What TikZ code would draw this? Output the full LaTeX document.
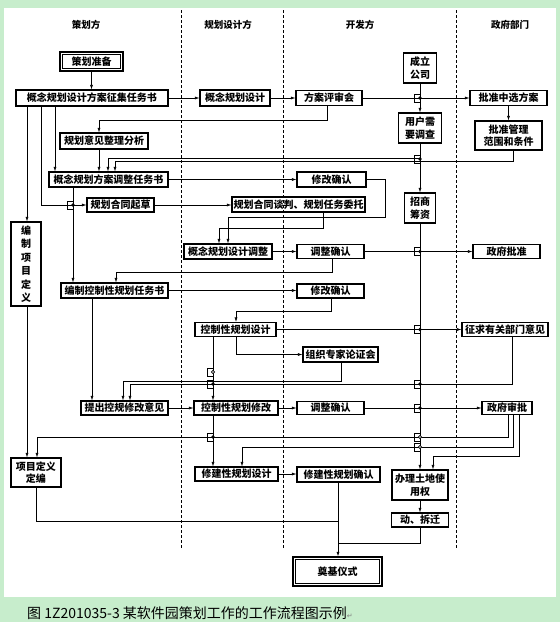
\documentclass[tikz,border=0pt]{standalone}
\usepackage{fontspec}
\setmainfont{Noto Sans CJK SC}
\newfontfamily\dejavu{DejaVu Sans}
\usetikzlibrary{arrows.meta}
\definecolor{bggreen}{RGB}{199,237,204}
\tikzset{
  bx/.style={draw, line width=1.1pt, inner sep=0pt, align=center,
    font=\bfseries\fontsize{10}{12.5}\selectfont},
  ln/.style={line width=0.6pt},
  ar/.style={ln, -{Latex[length=4.5pt,width=3pt]}},
  colline/.style={line width=0.6pt, dash pattern=on 3pt off 2pt},
  hd/.style={font=\bfseries\fontsize{9.5}{11}\selectfont},
  gatef/.pic={\draw[line width=0.7pt] (-6,-4) rectangle (0,4); \fill (0,0) circle (1.8);},
  gateh/.pic={\draw[line width=0.7pt] (-6,-4) rectangle (0,4); \draw[line width=0.6pt, fill=white] (0,0) circle (1.6);},
}
\begin{document}
\begin{tikzpicture}[x=1pt,y=-1pt]
\useasboundingbox (0,0) rectangle (560,622);
\fill[bggreen] (0,0) rectangle (560,622);
\fill[white] (4,8) rectangle (556,597);

% column separators
\draw[colline] (181,10) -- (181,548);
\draw[colline] (283,10) -- (283,548);
\draw[colline] (456,10) -- (456,548);

% headers
\node[hd] (h1) at (86,25) {策划方};
\node[hd] (h2) at (228,25) {规划设计方};
\node[hd] (h3) at (360,25) {开发方};
\node[hd] (h4) at (510,25) {政府部门};

% nodes
\node[bx, line width=1.5pt, minimum width=63, minimum height=19] (zb) at (91.5,61.5) {策划准备};
\draw[line width=0.7pt] ([shift={(3.2,3.2)}]zb.north west) rectangle ([shift={(-3.2,-3.2)}]zb.south east);
\node[bx, minimum width=152, minimum height=16] (zj) at (92,98) {概念规划设计方案征集任务书};
\node[bx, minimum width=70, minimum height=16] (gs) at (235,98) {概念规划设计};
\node[bx, minimum width=66, minimum height=15] (ps) at (329,98) {方案评审会};
\node[bx, minimum width=33, minimum height=30] (cl) at (420,68) {成立\\公司};
\node[bx, minimum width=43, minimum height=30] (yh) at (420,128) {用户需\\要调查};
\node[bx, minimum width=77, minimum height=15] (pz) at (508.5,98) {批准中选方案};
\node[bx, minimum width=67, minimum height=29] (pg) at (508.5,135.5) {批准管理\\范围和条件};
\node[bx, minimum width=88, minimum height=16] (yj) at (104,141) {规划意见整理分析};
\node[bx, minimum width=119, minimum height=15] (tz) at (108.5,179.5) {概念规划方案调整任务书};
\node[bx, minimum width=69, minimum height=15] (xga) at (331.5,179.5) {修改确认};
\node[bx, minimum width=31, minimum height=30] (zs) at (420,208) {招商\\筹资};
\node[bx, minimum width=67, minimum height=14] (qc) at (120.5,205) {规划合同起草};
\node[bx, minimum width=133, minimum height=15] (tp) at (298.5,204.5) {规划合同谈判、规划任务委托};
\node[bx, minimum width=30, minimum height=84, font=\bfseries\fontsize{10}{13.5}\selectfont] (xm) at (26,264) {编\\制\\项\\目\\定\\义};
\node[bx, minimum width=88, minimum height=15] (gt) at (228,251.5) {概念规划设计调整};
\node[bx, minimum width=67, minimum height=14] (tqa) at (330.5,251.5) {调整确认};
\node[bx, minimum width=67, minimum height=14] (zp) at (506.5,251.5) {政府批准};
\node[bx, minimum width=107, minimum height=15] (bk) at (114.5,290.5) {编制控制性规划任务书};
\node[bx, minimum width=67, minimum height=14] (xgb) at (330.5,291) {修改确认};
\node[bx, minimum width=81, minimum height=14] (ks) at (235.5,329.5) {控制性规划设计};
\node[bx, minimum width=86, minimum height=14] (zq) at (505,329.5) {征求有关部门意见};
\node[bx, minimum width=75, minimum height=15] (zz) at (340.5,354.5) {组织专家论证会};
\node[bx, minimum width=87, minimum height=14] (tc) at (124.5,408) {提出控规修改意见};
\node[bx, minimum width=84, minimum height=14] (kx) at (236,408) {控制性规划修改};
\node[bx, minimum width=67, minimum height=13] (tqb) at (330.5,408) {调整确认};
\node[bx, minimum width=50, minimum height=13] (zf) at (507,408) {政府审批};
\node[bx, minimum width=50, minimum height=29] (xd) at (36,472.5) {项目定义\\定编};
\node[bx, minimum width=83, minimum height=14] (xs) at (236.5,474) {修建性规划设计};
\node[bx, minimum width=83, minimum height=15] (xq) at (338.5,474.5) {修建性规划确认};
\node[bx, minimum width=56, minimum height=30] (bl) at (420,485) {办理土地使\\用权};
\node[bx, minimum width=57, minimum height=14] (dc) at (420,520) {动、拆迁};
\node[bx, line width=1.5pt, minimum width=89, minimum height=29] (dj) at (337.5,571.5) {奠基仪式};
\draw[line width=0.7pt] ([shift={(3.2,3.2)}]dj.north west) rectangle ([shift={(-3.2,-3.2)}]dj.south east);

% connectors
\draw[ar] (zb.south) -- (zb.south |- zj.north);
\draw[ar] (zj.east) -- (gs.west);
\draw[ar] (gs.east) -- (gs.east -| ps.west);
\draw[ar] (ps.east) -- (ps.east -| pz.west);
\draw[ar] (cl.south) -- (yh.north);
\draw[ar] (pz.south) -- (pz.south |- pg.north);
\draw[ar] (ps.south -| 327,0) |- (99,120) -- (yj.north -| 99,0);
\draw[ar] (yj.south -| 99,0) -- (tz.north -| 99,0);
\draw[ar] (zj.south -| 55,0) -- (tz.north -| 55,0);
\draw[ar] (zj.south -| 41,0) |- (qc.west);
\draw[ar] (zj.south -| 27,0) -- (xm.north -| 27,0);
\draw[ar] (yh.south) -- (zs.north);
\draw[ar] (yh.south |- 0,158) -| (tz.north -| 108,0);
\draw[ar] (pg.south -| 513,0) |- (115,161) -- (tz.north -| 115,0);
\draw[ar] (tz.east) -- (tz.east -| xga.west);
\draw[ar] (xga.east) -| (385,217) -| (gt.north -| 228,0);
\draw[ar] (tp.south -| 323,0) |- (219,228) -- (gt.north -| 219,0);
\draw[ar] (qc.east) -- (qc.east -| tp.west);
\draw[ar] (tz.south -| 73,0) -- (bk.north -| 73,0);
\draw[ar] (gt.east) -- (gt.east -| tqa.west);
\draw[ar] (tqa.east) -- (tqa.east -| zp.west);
\draw[ar] (tqa.south -| 332,0) |- (116,272) -- (bk.north -| 116,0);
\draw[ar] (bk.east) -- (bk.east -| xgb.west);
\draw[ar] (xgb.south -| 331,0) |- (236,311) -- (ks.north -| 236,0);
\draw[ar] (ks.east) -- (ks.east -| zq.west);
\draw[ar] (ks.south -| 236,0) |- (zz.west);
\draw[ar] (ks.south -| 213,0) -- (kx.north -| 213,0);
\draw[ar] (zz.south -| 341,0) |- (123,381) -- (tc.north -| 123,0);
\draw[ar] (zq.south -| 512,0) |- (130,384) -- (tc.north -| 130,0);
\draw[ar] (bk.south -| 92,0) -- (tc.north -| 92,0);
\draw[ar] (tc.east) -- (tc.east -| kx.west);
\draw[ar] (kx.east) -- (kx.east -| tqb.west);
\draw[ar] (tqb.east) -- (tqb.east -| zf.west);
\draw[ar] (kx.south -| 213,0) -- (xs.north -| 213,0);
\draw[ar] (zf.south -| 508,0) |- (37,437) -- (xd.north -| 37,0);
\draw[ar] (zf.south -| 513,0) |- (242,447) -- (xs.north -| 242,0);
\draw[ar] (zf.south -| 519,0) |- (433,456) -- (bl.north -| 433,0);
\draw[ar] (xm.south -| 27,0) -- (xd.north -| 27,0);
\draw[ar] (xs.east) -- (xs.east -| xq.west);
\draw[ar] (xq.south -| 338,0) -- (dj.north -| 338,0);
\draw[ln] (xd.south) |- (338,521);
\draw[ln] (dc.south) |- (338,543);
\draw[ar] (zs.south) -- (bl.north);
\draw[ar] (bl.south) -- (dc.north);

% junction marks
\pic at (420,98) {gatef};
\pic at (420,159) {gatef};
\pic at (73,205) {gatef};
\pic at (420,251.5) {gatef};
\pic at (420,329.5) {gatef};
\pic at (213,372) {gateh};
\pic at (213,384) {gatef};
\pic at (420,384) {gatef};
\pic at (420,408) {gatef};
\pic at (213,437) {gatef};
\pic at (420,437) {gateh};
\pic at (420,447) {gateh};

% caption
\node[anchor=west, inner sep=0pt, font=\fontsize{14}{16}\selectfont] (cap) at (27,613) {图 1Z201035-3 某软件园策划工作的工作流程图示例{\dejavu\fontsize{7}{8}\selectfont\color{gray}↵}};
\end{tikzpicture}
\end{document}
